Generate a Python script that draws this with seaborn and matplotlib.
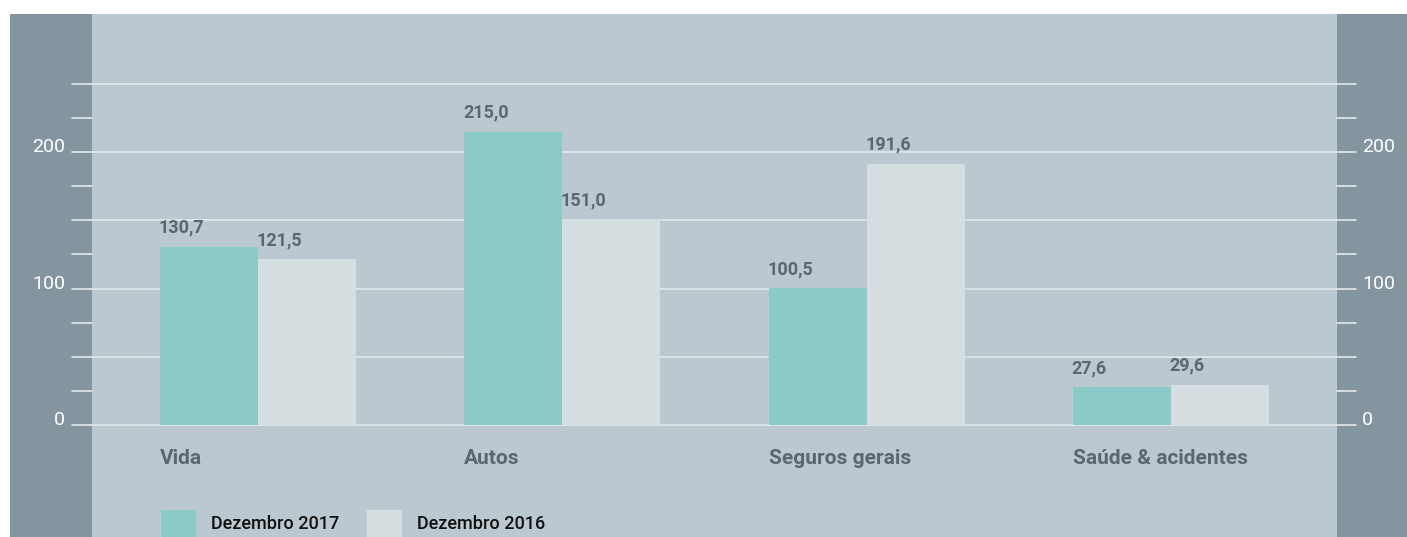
import matplotlib
matplotlib.use("Agg")
import matplotlib.pyplot as plt
from matplotlib.patches import Rectangle
import seaborn as sns
import pandas as pd

# dados (milhões)
categorias = ["Vida", "Autos", "Seguros gerais", "Saúde & acidentes"]
series = ["Dezembro 2017", "Dezembro 2016"]
valores_2017 = [130.7, 215.0, 100.5, 27.6]
valores_2016 = [121.5, 151.0, 191.6, 29.6]
yticks_major = [0, 50, 100, 150, 200, 250]
yticks_minor = [25, 75, 125, 175, 225]
ytick_labels = {0: "0", 100: "100", 200: "200"}

cor_2017 = "#8acbc8"
cor_2016 = "#d5dee1"
cor_fundo = "#bbc8d0"
cor_painel = "#85959f"
cor_grade = "#e2e8eb"
cor_texto = "#5b6770"

df = pd.DataFrame({
    "categoria": categorias * 2,
    "serie": [series[0]] * 4 + [series[1]] * 4,
    "valor": valores_2017 + valores_2016,
})

sns.set_theme(style="white")
plt.rcParams["font.family"] = ["Roboto", "DejaVu Sans"]

W, H = 1407, 537
fig = plt.figure(figsize=(W / 100, H / 100), dpi=100)
fig.patch.set_facecolor("white")

def fx(px):
    return px / W

def fy(py):
    return (H - py) / H

# painéis de fundo
fig.patches.append(Rectangle((fx(10), 0), fx(82), fy(14), transform=fig.transFigure,
                             facecolor=cor_painel, edgecolor="none", zorder=-10))
fig.patches.append(Rectangle((fx(92), 0), fx(1245), fy(14), transform=fig.transFigure,
                             facecolor=cor_fundo, edgecolor="none", zorder=-10))
fig.patches.append(Rectangle((fx(1337), 0), fx(70), fy(14), transform=fig.transFigure,
                             facecolor=cor_painel, edgecolor="none", zorder=-10))

# eixo: x 72..1356 px, y 0 em 425 px e 250 em 84 px
ax = fig.add_axes([fx(72), fy(425), fx(1356 - 72), (425 - 84) / H])
ax.patch.set_alpha(0)

unit = 304.33
sns.barplot(data=df, x="categoria", y="valor", hue="serie", palette=[cor_2017, cor_2016],
            width=196 / unit, saturation=1, legend=False, ax=ax, zorder=3, edgecolor="none")

ax.set_xlim((72 - 258) / unit, (1356 - 258) / unit)
ax.set_ylim(0, 250)
for s in ax.spines.values():
    s.set_visible(False)
ax.set_xticks([])
ax.set_yticks([])
ax.set_xlabel("")
ax.set_ylabel("")

# linhas de grade
for v in yticks_major:
    ax.axhline(v, color=cor_grade, lw=1.2, zorder=1, clip_on=False)
left_frac = (92 - 72) / (1356 - 72)
right_frac = (1337 - 72) / (1356 - 72)
for v in yticks_minor:
    ax.axhline(v, xmin=0, xmax=left_frac, color=cor_grade, lw=1.2, zorder=1, clip_on=False)
    ax.axhline(v, xmin=right_frac, xmax=1, color=cor_grade, lw=1.2, zorder=1, clip_on=False)

# rótulos do eixo y (dos dois lados)
for v, lab in ytick_labels.items():
    ax.text((65 - 72) / 1284, v, lab, transform=ax.get_yaxis_transform(), ha="right",
            va="baseline", color="white", fontsize=14)
    ax.text((1362 - 72) / 1284, v, lab, transform=ax.get_yaxis_transform(), ha="left",
            va="baseline", color="white", fontsize=14)

# valores sobre as barras
for cont in ax.containers:
    for bar in cont:
        h = bar.get_height()
        ax.annotate(f"{h:.1f}".replace(".", ","), (bar.get_x(), h), xytext=(-1, 10),
                    textcoords="offset points", ha="left", va="baseline",
                    fontsize=13, fontweight="bold", color=cor_texto, annotation_clip=False)

# categorias
half = 196 / unit / 2
for i, c in enumerate(categorias):
    ax.text(i - half, (425 - 458) / 341, c, transform=ax.get_xaxis_transform(),
            ha="left", va="center", fontsize=15, fontweight="bold", color=cor_texto)

# legenda
for x0, cor, lab in [(161, cor_2017, series[0]), (367, cor_2016, series[1])]:
    fig.patches.append(Rectangle((fx(x0), 0), fx(35), (537 - 510) / H, transform=fig.transFigure,
                                 facecolor=cor, edgecolor="none", zorder=-5))
    fig.text(fx(x0 + 50), fy(524), lab, ha="left", va="center", fontsize=13,
             fontweight="medium", color="#111111")

fig.savefig("out.png", dpi=100, facecolor=fig.get_facecolor())
